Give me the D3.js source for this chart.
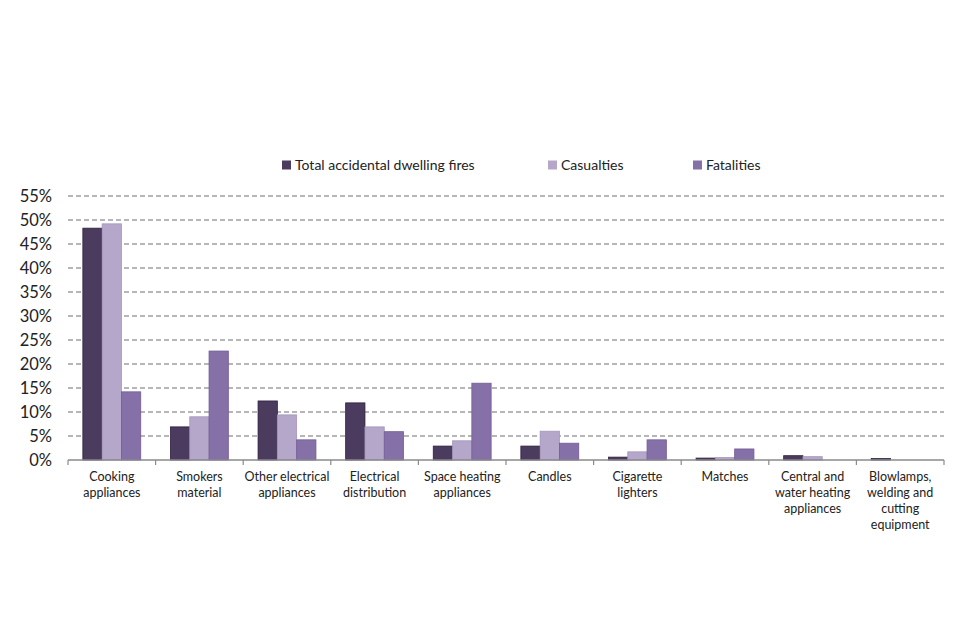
<!DOCTYPE html>
<html><head><meta charset="utf-8">
<script src="https://cdn.jsdelivr.net/npm/d3@7"></script>
<style>body{margin:0;background:#fff}svg{display:block}text{font-family:Lato,"Open Sans",sans-serif;fill:#222}</style>
</head><body><svg id="c" width="960" height="640"></svg>
<script>
const categories = [
  ["Cooking","appliances"],["Smokers","material"],["Other electrical","appliances"],
  ["Electrical","distribution"],["Space heating","appliances"],["Candles"],
  ["Cigarette","lighters"],["Matches"],["Central and","water heating","appliances"],
  ["Blowlamps,","welding and","cutting","equipment"]];
const seriesNames = ["Total accidental dwelling fires","Casualties","Fatalities"];
const totalFires = [48.3, 6.9, 12.3, 11.9, 2.9, 2.9, 0.6, 0.4, 0.9, 0.3];
const casualties = [49.2, 9.0, 9.4, 6.9, 4.0, 6.0, 1.7, 0.5, 0.7, 0.0];
const fatalities = [14.2, 22.7, 4.2, 5.9, 16.0, 3.5, 4.2, 2.3, 0.0, 0.0];
const yTicks = [0,5,10,15,20,25,30,35,40,45,50,55];
const colors = ["#4b3b5f","#b4a7ca","#8670a8"];
const strokes = ["#2e2040","#a595bf","#735c96"];

const svg = d3.select("#c");
const x0 = 68, x1 = 944, yTop = 196, yBot = 460;
const x = d3.scaleBand().domain(d3.range(categories.length)).range([x0,x1]).paddingInner(0).paddingOuter(0);
const xs = d3.scaleBand().domain([0,1,2]).range([0,x.bandwidth()]).paddingOuter(0.77).paddingInner(0);
const y = d3.scaleLinear().domain([0,55]).range([yBot,yTop]);

// gridlines
svg.append("g").selectAll("line").data(yTicks.filter(t=>t>0)).join("line")
  .attr("x1",x0).attr("x2",x1).attr("y1",d=>y(d)).attr("y2",d=>y(d))
  .attr("stroke","#9f9f9f").attr("stroke-width",1.3).attr("stroke-dasharray","5,3");

// y labels
svg.append("g").selectAll("text").data(yTicks).join("text")
  .attr("x",52).attr("y",d=>y(d)).attr("dy","0.35em").attr("text-anchor","end")
  .style("font-size","16.5px").text(d=>d+"%");

// bars
const data = [totalFires, casualties, fatalities];
data.forEach((vals,si)=>{
  svg.append("g").selectAll("rect").data(vals).join("rect")
    .attr("x",(d,i)=>x(i)+xs(si)).attr("width",xs.bandwidth())
    .attr("y",d=>y(d)).attr("height",d=>yBot-y(d))
    .attr("fill",colors[si]).attr("stroke",d=>d>0?strokes[si]:"none").attr("stroke-width",0.8);
});

// x axis
const ax = svg.append("g");
ax.append("line").attr("x1",x0).attr("x2",x1).attr("y1",yBot).attr("y2",yBot).attr("stroke","#8a8a8a").attr("stroke-width",1.5);
ax.selectAll("line.t").data(d3.range(categories.length+1)).join("line").attr("class","t")
  .attr("x1",i=>x0+i*x.bandwidth()).attr("x2",i=>x0+i*x.bandwidth()).attr("y1",yBot).attr("y2",yBot+5)
  .attr("stroke","#8a8a8a").attr("stroke-width",1.2);
categories.forEach((lines,i)=>{
  const t = svg.append("text").attr("text-anchor","middle").style("font-size","12.5px");
  lines.forEach((l,k)=>t.append("tspan").attr("x",x(i)+x.bandwidth()/2).attr("y",481+k*16).text(l));
});

// legend
const legX = [282,548,693];
seriesNames.forEach((n,i)=>{
  svg.append("rect").attr("x",legX[i]).attr("y",160.5).attr("width",9).attr("height",9).attr("fill",colors[i]);
  svg.append("text").attr("x",legX[i]+13).attr("y",165).attr("dy","0.35em").style("font-size","14px").text(n);
});
</script></body></html>
